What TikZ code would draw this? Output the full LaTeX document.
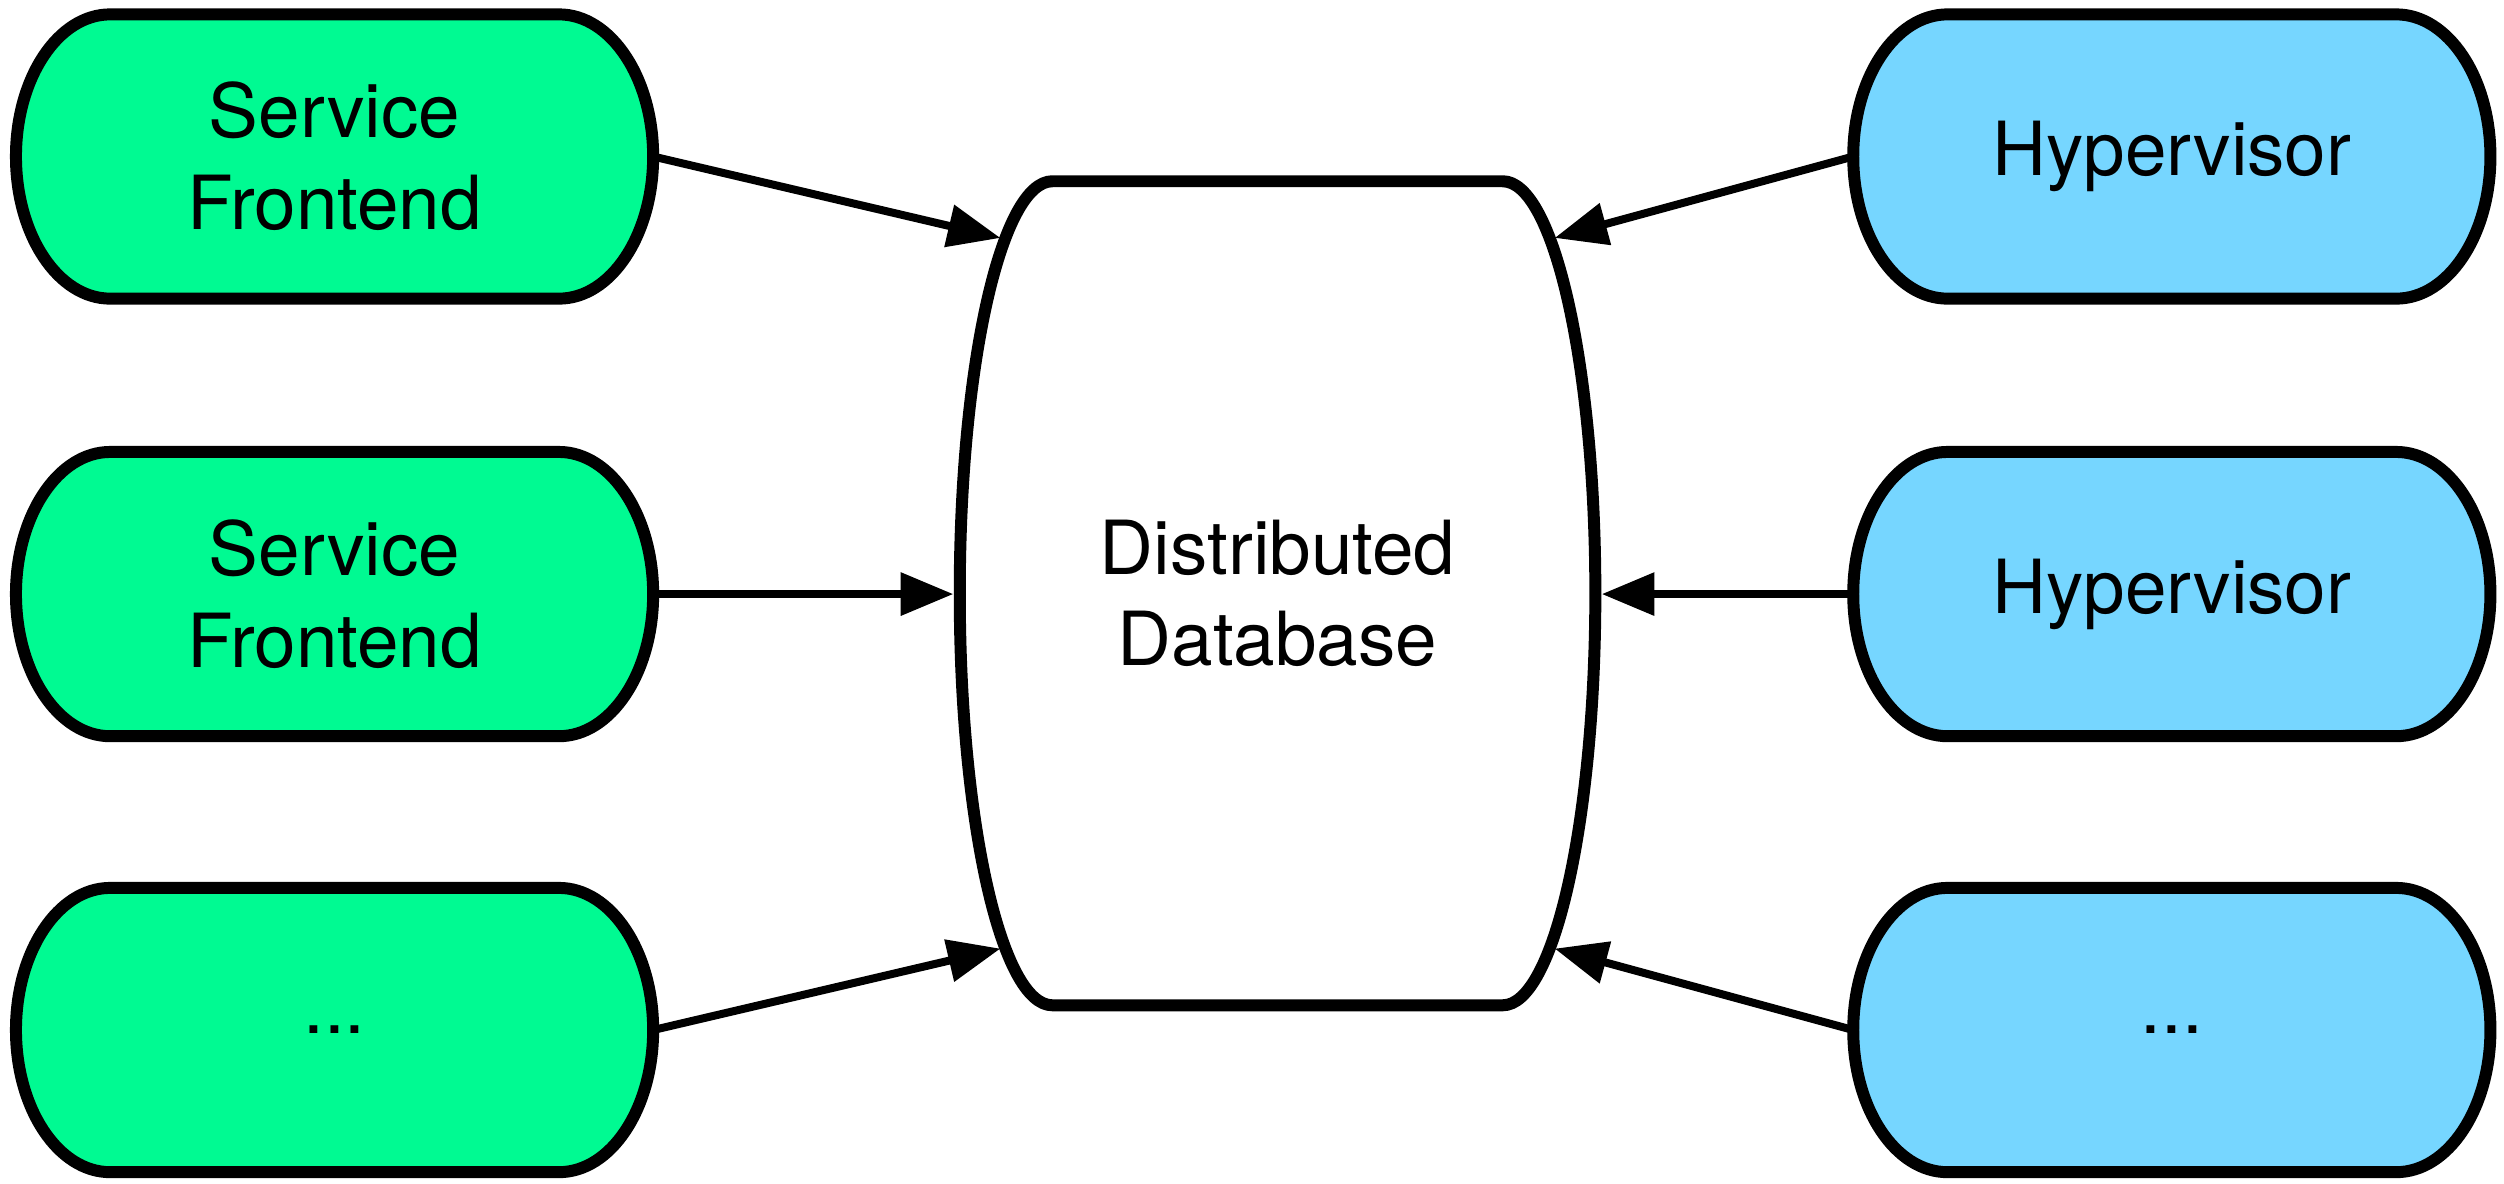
\documentclass[tikz,border=0pt]{standalone}
\usepackage{fontspec}
\setmainfont{TeX Gyre Heros}
\usetikzlibrary{arrows.meta,calc,backgrounds}
\definecolor{seafoam}{RGB}{0,250,146}
\definecolor{sky}{RGB}{118,214,255}
\tikzset{
  box/.style={minimum width=159.6pt, minimum height=71.2pt, inner sep=0pt, outer sep=0pt,
              align=center, font=\fontsize{18.7}{23}\selectfont},
  dbbox/.style={minimum width=159.2pt, minimum height=206.4pt, inner sep=0pt, outer sep=0pt,
              align=center, font=\fontsize{18.7}{23}\selectfont},
  outline/.style={line width=3pt, draw=black, line join=round},
  conn/.style={line width=2pt, -{Triangle[length=13.2pt,width=10.4pt]}},
}
\newcommand\stadiumpath[2]{%
  \draw[outline, fill=#2] ($(#1.north west)+(23.6pt,0)$) -- ($(#1.north east)+(-23.6pt,0)$)
    arc[start angle=90,end angle=-90,x radius=23.6pt,y radius=35.6pt]
    -- ($(#1.south west)+(23.6pt,0)$)
    arc[start angle=270,end angle=90,x radius=23.6pt,y radius=35.6pt] -- cycle;}
\begin{document}
\begin{tikzpicture}[x=0.4pt,y=0.4pt]
\useasboundingbox (0,0) rectangle (1568,-741);
% left column
\node[box] (sf1) at (209.5,-98) {Service\\Frontend};
\node[box] (sf2) at (209.5,-372) {Service\\Frontend};
\node[box] (sf3) at (209.5,-645) {...};
% right column
\node[box] (hv1) at (1360,-98) {Hypervisor};
\node[box] (hv2) at (1360,-372) {Hypervisor};
\node[box] (hv3) at (1360,-645) {...};
% database
\node[dbbox] (db) at (800,-371.5) {Distributed\\Database};
\begin{scope}[on background layer]
  \stadiumpath{sf1}{seafoam}
  \stadiumpath{sf2}{seafoam}
  \stadiumpath{sf3}{seafoam}
  \stadiumpath{hv1}{sky}
  \stadiumpath{hv2}{sky}
  \stadiumpath{hv3}{sky}
  \draw[outline, fill=white] ($(db.north west)+(23.2pt,0)$) -- ($(db.north east)+(-23.2pt,0)$)
    arc[start angle=90,end angle=-90,x radius=23.2pt,y radius=103.2pt]
    -- ($(db.south west)+(23.2pt,0)$)
    arc[start angle=270,end angle=90,x radius=23.2pt,y radius=103.2pt] -- cycle;
\end{scope}
% arrow targets on the database outline
\coordinate (dbl1) at (626.5,-149);
\coordinate (dbl2) at (597,-372);
\coordinate (dbl3) at (626.5,-594);
\coordinate (dbr1) at (973.5,-149);
\coordinate (dbr2) at (1003,-372);
\coordinate (dbr3) at (973.5,-594);
\draw[conn] (sf1.east) -- (dbl1);
\draw[conn] (sf2.east) -- (dbl2);
\draw[conn] (sf3.east) -- (dbl3);
\draw[conn] (hv1.west) -- (dbr1);
\draw[conn] (hv2.west) -- (dbr2);
\draw[conn] (hv3.west) -- (dbr3);
\end{tikzpicture}
\end{document}
